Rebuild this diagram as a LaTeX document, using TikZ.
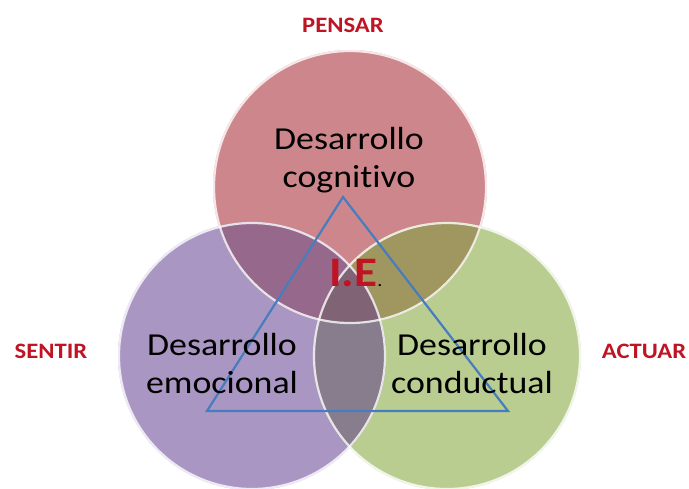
\documentclass[tikz,border=0pt]{standalone}
\usepackage{fontspec}
\setmainfont{Carlito}[FakeStretch=1.12,Ligatures=NoCommon]
\usepackage{xcolor}

\definecolor{piensa}{RGB}{205,135,140}
\definecolor{siente}{RGB}{170,150,195}
\definecolor{actua}{RGB}{185,205,145}
\definecolor{piensasiente}{RGB}{150,105,140}
\definecolor{sienteactua}{RGB}{135,125,140}
\definecolor{piensaactua}{RGB}{160,150,95}
\definecolor{todos}{RGB}{128,100,118}
\definecolor{etiqueta}{RGB}{190,20,35}
\definecolor{triangulo}{RGB}{70,125,190}

\begin{document}
\begin{tikzpicture}[x=1pt,y=-1pt]
  \tikzset{
    borde/.style={draw=white,line width=2.2pt,opacity=.8},
    area/.style={font=\fontsize{32}{38}\selectfont,align=center,text=black},
    verbo/.style={font=\bfseries\fontsize{22}{26}\selectfont,text=etiqueta}
  }
  \useasboundingbox (0,0) rectangle (689,488);
  \coordinate (pc) at (350,187);
  \coordinate (sc) at (252,356);
  \coordinate (ac) at (447,356);
  % circulos
  \fill[piensa] (pc) circle (137pt);
  \fill[siente] (sc) circle (134pt);
  \fill[actua] (ac) circle (134pt);
  \begin{scope}
    \clip (pc) circle (137pt);
    \fill[piensasiente] (sc) circle (134pt);
    \fill[piensaactua] (ac) circle (134pt);
  \end{scope}
  \begin{scope}
    \clip (sc) circle (134pt);
    \fill[sienteactua] (ac) circle (134pt);
    \clip (ac) circle (134pt);
    \fill[todos] (pc) circle (137pt);
  \end{scope}
  \draw[borde] (pc) circle (136pt);
  \draw[borde] (sc) circle (133pt);
  \draw[borde] (ac) circle (133pt);
  % triangulo
  \coordinate (ta) at (343,197);
  \coordinate (tl) at (207,411);
  \coordinate (tr) at (508,411);
  \draw[triangulo,line width=2.2pt,line join=miter] (ta) -- (tl) -- (tr) -- cycle;
  % textos
  \node[area] (cog) at (349,160) {Desarrollo\\cognitivo};
  \node[area] (emo) at (222,364) {Desarrollo\\emocional};
  \node[area] (con) at (472,364) {Desarrollo\\conductual};
  \node[anchor=base west,inner sep=0pt,font=\bfseries\fontsize{42}{42}\selectfont,text=etiqueta] (ie) at (329,286) {I.E\textcolor{black}{\mdseries\fontsize{18}{18}\selectfont.}};
  \node[verbo] (pensar) at (343,25) {PENSAR};
  \node[verbo] (sentir) at (51,351) {SENTIR};
  \node[verbo] (actuar) at (644,351) {ACTUAR};
\end{tikzpicture}
\end{document}
